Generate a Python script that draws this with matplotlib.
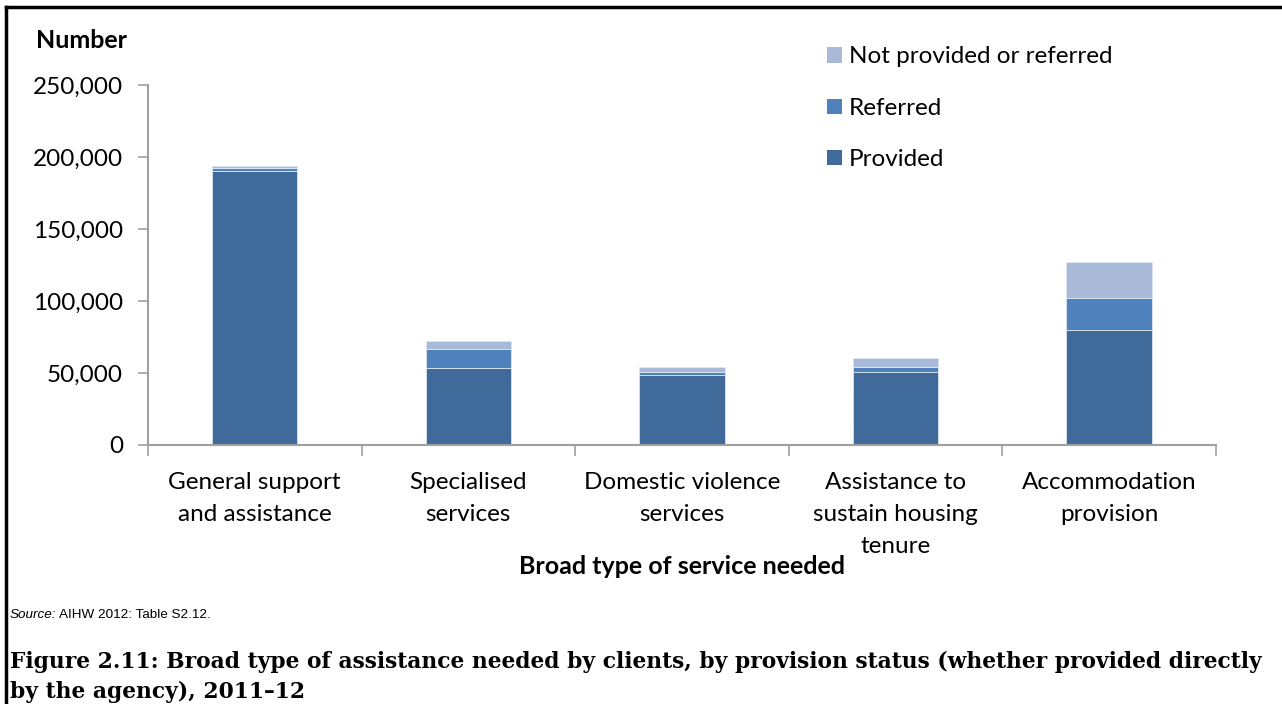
import numpy as np
import matplotlib.pyplot as plt
from matplotlib.patches import Patch
from matplotlib.lines import Line2D

# 2011-12 clients by broad type of service needed and provision status
categories = [
    "General support\nand assistance",
    "Specialised\nservices",
    "Domestic violence\nservices",
    "Assistance to\nsustain housing\ntenure",
    "Accommodation\nprovision",
]
provided = [190500, 53700, 48800, 50500, 79900]
referred = [2000, 13000, 1900, 3500, 22200]
not_provided = [1400, 5600, 3200, 6200, 25000]

series_labels = ["Provided", "Referred", "Not provided or referred"]
colors = ["#3F6A9A", "#4F81BD", "#A9B9D8"]
y_ticks = [0, 50000, 100000, 150000, 200000, 250000]

plt.rcParams["font.family"] = ["Lato", "DejaVu Sans"]

fig = plt.figure(figsize=(12.82, 7.04), dpi=100)
ax = fig.add_axes([0.1154, 0.3679, 0.8331, 0.5114])

x = np.arange(len(categories))
bottom = np.zeros(len(categories))
for vals, col, lab in zip([provided, referred, not_provided], colors, series_labels):
    ax.bar(x, vals, width=0.4, bottom=bottom, color=col, label=lab,
           edgecolor="#DDE6F2", linewidth=0.6)
    bottom += np.array(vals)

ax.set_xlim(-0.5, len(categories) - 0.5)
ax.set_ylim(0, 250000)
ax.set_yticks(y_ticks)
ax.set_yticklabels([f"{v:,}" for v in y_ticks])

# category labels between boundary ticks
ax.set_xticks(np.arange(-0.5, len(categories)), minor=False)
ax.set_xticklabels([])
ax.set_xticks(x, minor=True)
ax.set_xticklabels(categories, minor=True, fontsize=17.5, linespacing=1.65)
ax.tick_params(axis="x", which="minor", length=0, pad=19.5)
ax.tick_params(axis="x", which="major", length=8, width=1.2, color="#A0A0A0", direction="out")
ax.tick_params(axis="y", length=7, width=1.2, color="#A0A0A0", labelsize=17.5, pad=11)

for side in ["top", "right"]:
    ax.spines[side].set_visible(False)
for side in ["left", "bottom"]:
    ax.spines[side].set_color("#A0A0A0")
    ax.spines[side].set_linewidth(1.5)

handles = [Patch(facecolor=c) for c in colors][::-1]
ax.legend(handles, series_labels[::-1], loc="upper left", bbox_to_anchor=(0.627, 1.134),
          frameon=False, fontsize=17.5, handlelength=0.6, handleheight=0.6,
          handletextpad=0.3, labelspacing=1.25, borderaxespad=0)

fig.text(0.028, 0.943, "Number", fontsize=18, fontweight="bold", va="center")
fig.text(0.532, 0.196, "Broad type of service needed", fontsize=18, fontweight="bold",
         ha="center", va="center")

fig.text(0.0078, 0.126, "Source:", fontsize=9.7, style="italic",
         family="Liberation Sans", va="center")
fig.text(0.046, 0.126, "AIHW 2012: Table S2.12.", fontsize=9.7,
         family="Liberation Sans", va="center")
fig.text(0.0078, 0.038,
         "Figure 2.11: Broad type of assistance needed by clients, by provision status "
         "(whether provided directly\nby the agency), 2011\u201312",
         fontsize=15.7, fontweight="bold", family="DejaVu Serif",
         va="center", linespacing=1.45)

# frame lines around the chart area
fig.add_artist(Line2D([0.005, 1.0], [0.9895, 0.9895], color="black", linewidth=2.5))
fig.add_artist(Line2D([0.005, 0.005], [0.0, 0.9895], color="black", linewidth=2.5))

fig.savefig("out.png", dpi=100)
